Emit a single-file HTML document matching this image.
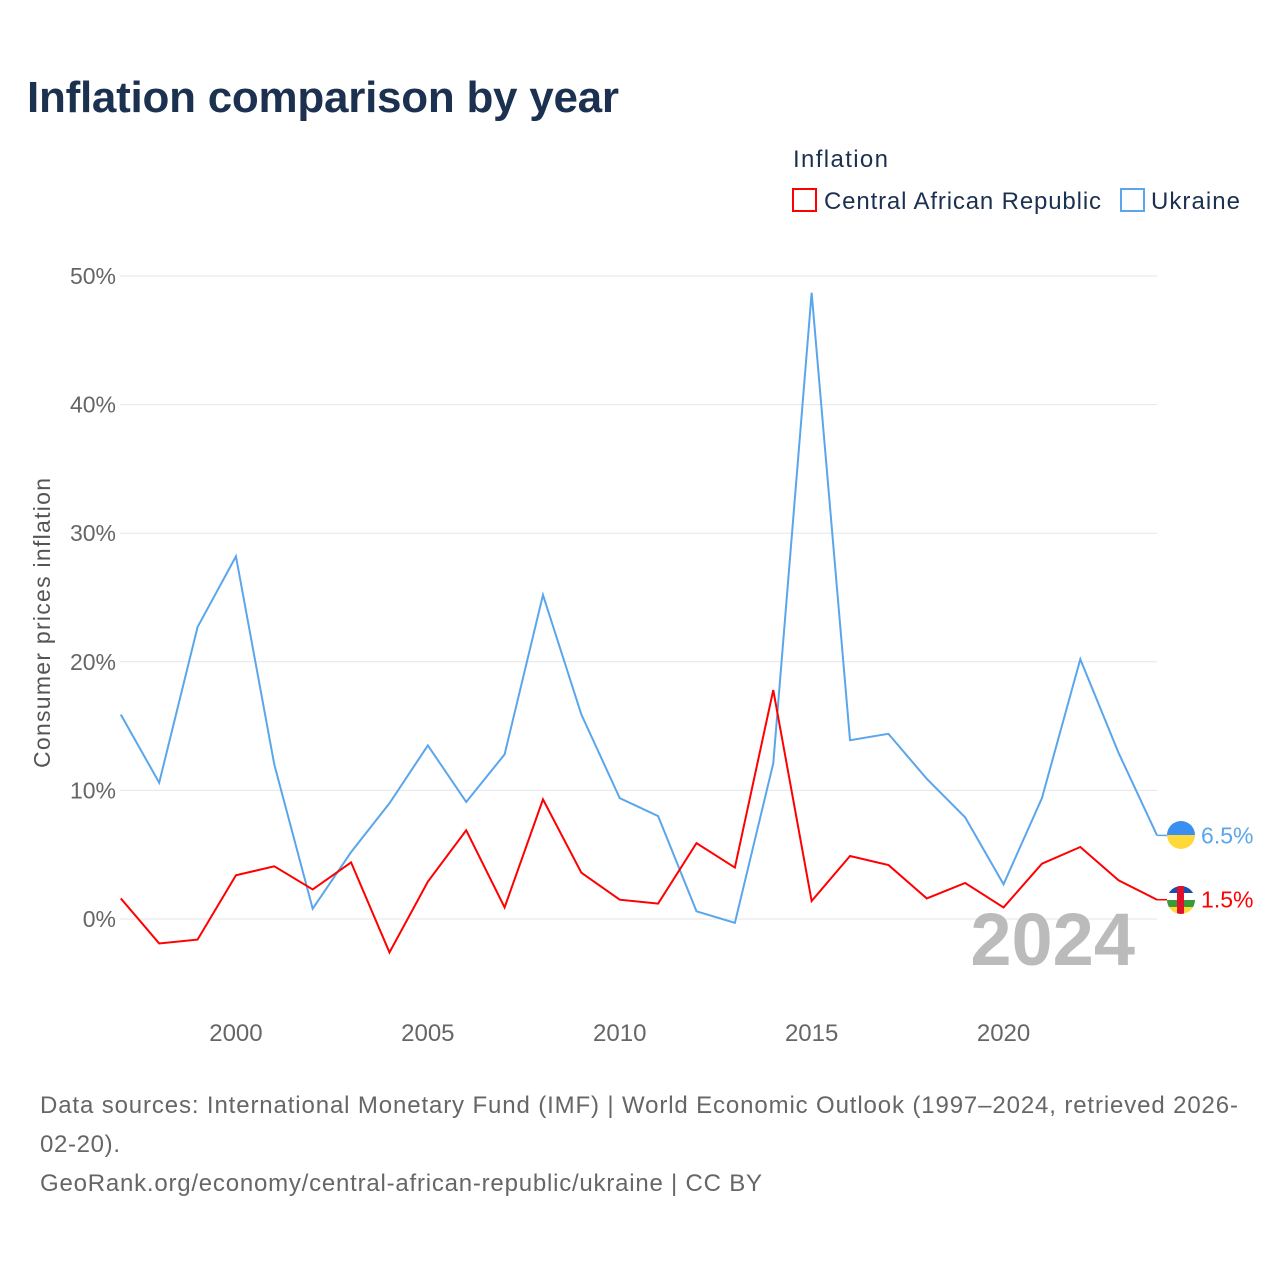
<!DOCTYPE html>
<html><head><meta charset="utf-8"><style>
body{margin:0;background:#fff;font-family:"Liberation Sans",sans-serif;}
#wrap{position:relative;width:1280px;height:1280px;overflow:hidden}
</style></head><body>
<div id="wrap">
<svg id="chart" width="1280" height="1280">
<defs>
<clipPath id="cu"><circle cx="1181" cy="835" r="14"/></clipPath>
<clipPath id="cc"><circle cx="1181" cy="900" r="14"/></clipPath>
</defs>
<text x="27" y="112" font-size="44" font-weight="bold" fill="#1c3150" textLength="592">Inflation comparison by year</text>
<text x="793" y="167" font-size="24" fill="#1c3150" textLength="95">Inflation</text>
<g><rect x="793" y="189" width="23" height="22" fill="none" stroke="#f00" stroke-width="2"/><text x="824" y="209" font-size="24" fill="#1c3150" textLength="277">Central African Republic</text></g>
<g><rect x="1121" y="189" width="23" height="22" fill="none" stroke="#5aa6ec" stroke-width="2"/><text x="1151" y="209" font-size="24" fill="#1c3150" textLength="89">Ukraine</text></g>
<g id="grid"></g><g id="yticks"></g><g id="xticks"></g>
<text transform="translate(50,623) rotate(-90)" text-anchor="middle" font-size="23" fill="#555" textLength="290">Consumer prices inflation</text>
<text x="1135" y="965" text-anchor="end" font-size="74" font-weight="bold" fill="#bbb">2024</text>
<g id="series"></g>
<g clip-path="url(#cu)"><rect x="1167" y="821" width="28" height="14" fill="#3b8ff0"/><rect x="1167" y="835" width="28" height="14" fill="#ffd83a"/></g>
<g clip-path="url(#cc)"><rect x="1167" y="886" width="28" height="7" fill="#1a4fb0"/><rect x="1167" y="893" width="28" height="7" fill="#fff"/><rect x="1167" y="900" width="28" height="7" fill="#3a9a3a"/><rect x="1167" y="907" width="28" height="7" fill="#ffd83a"/><rect x="1177" y="886" width="7" height="28" fill="#e0102a"/></g>
<text x="40" y="1113" font-size="24" fill="#666" textLength="1198">Data sources: International Monetary Fund (IMF) | World Economic Outlook (1997–2024, retrieved 2026-</text>
<text x="40" y="1152" font-size="24" fill="#666" textLength="80">02-20).</text>
<text x="40" y="1191" font-size="24" fill="#666" textLength="722">GeoRank.org/economy/central-african-republic/ukraine | CC BY</text>
</svg></div>
<script>
const years=[1997,1998,1999,2000,2001,2002,2003,2004,2005,2006,2007,2008,2009,2010,2011,2012,2013,2014,2015,2016,2017,2018,2019,2020,2021,2022,2023,2024];
const ukraine=[15.9,10.6,22.7,28.2,12.0,0.8,5.2,9.0,13.5,9.1,12.8,25.2,15.9,9.4,8.0,0.6,-0.3,12.1,48.7,13.9,14.4,10.9,7.9,2.7,9.4,20.2,12.9,6.5];
const car=[1.6,-1.9,-1.6,3.4,4.1,2.3,4.4,-2.6,2.9,6.9,0.9,9.3,3.6,1.5,1.2,5.9,4.0,17.8,1.4,4.9,4.2,1.6,2.8,0.9,4.3,5.6,3.0,1.5];
const yTicks=[0,10,20,30,40,50];
const xTicks=[2000,2005,2010,2015,2020];
const NS="http://www.w3.org/2000/svg";
const X=y=>120.8+(y-1997)*38.38, Y=v=>919-v*12.86;
function mk(t,a,p){const e=document.createElementNS(NS,t);for(const k in a)e.setAttribute(k,a[k]);p.appendChild(e);return e;}
const grid=document.getElementById('grid'),yt=document.getElementById('yticks'),xt=document.getElementById('xticks'),ser=document.getElementById('series');
yTicks.forEach(v=>{
 const l=mk('line',{x1:120,x2:1157,y1:Y(v),y2:Y(v),stroke:'#e6e6e6','stroke-width':1},grid);
 
 
 const t=mk('text',{x:116,y:Y(v)+8,'text-anchor':'end','font-size':23,fill:'#666'},yt);t.textContent=v+'%';
 
 
});
xTicks.forEach(v=>{
 const t=mk('text',{x:X(v),y:1041,'text-anchor':'middle','font-size':24,fill:'#666'},xt);t.textContent=v;
 
 
});
function line(vals,col,name){
 const p=mk('polyline',{points:vals.map((v,i)=>X(years[i])+','+Y(v)).join(' '),fill:'none',stroke:col,'stroke-width':2},ser);
 
 
 const last=vals[vals.length-1],lx=X(years[years.length-1]);
 const s=mk('line',{x1:lx,x2:lx+12,y1:Y(last),y2:Y(last),stroke:col,'stroke-width':1.5},ser);
 
 
 const t=mk('text',{x:lx+44,y:Y(last)+8,'font-size':23,fill:col},ser);t.textContent=last+'%';
 
 
}
line(ukraine,'#5aa6ec','ukraine');
line(car,'#f00','car');
</script>
</body></html>
